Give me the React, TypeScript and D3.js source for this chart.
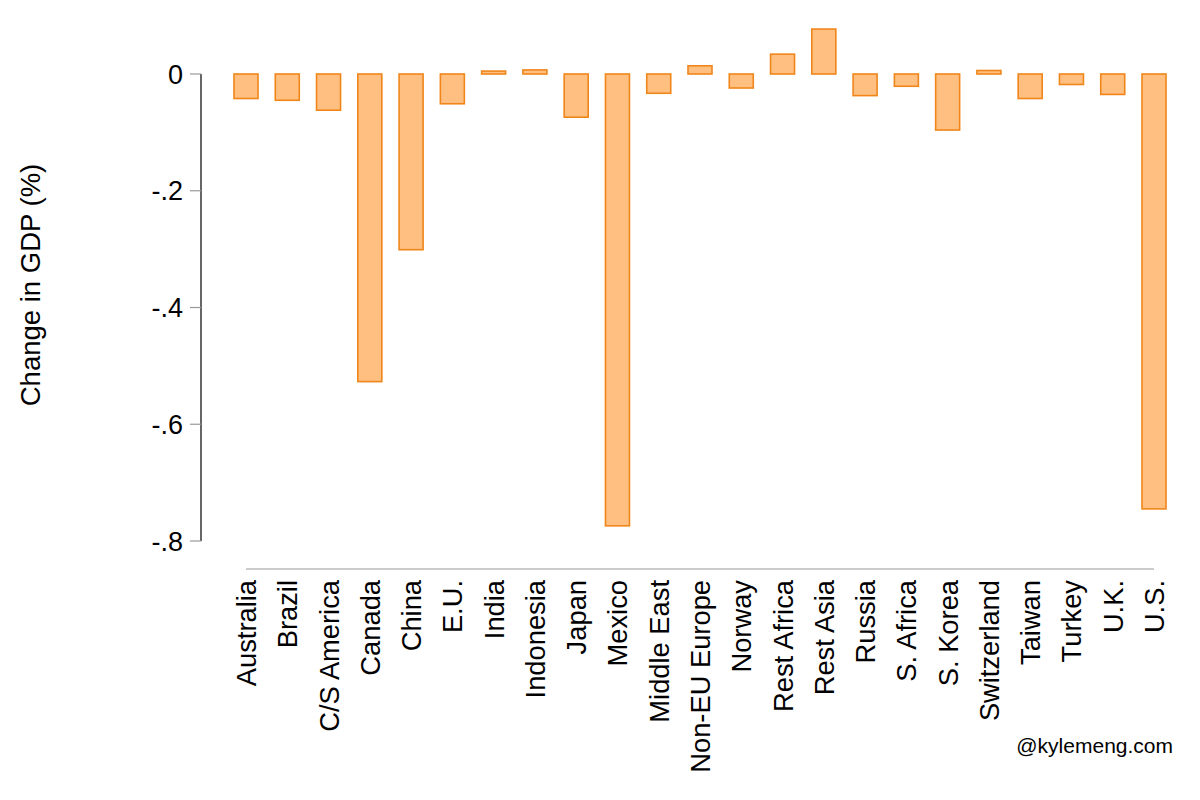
import React from 'react';
import * as d3 from 'd3';

// regions and their change in GDP (%)
const regions = [
  'Australia', 'Brazil', 'C/S America', 'Canada', 'China', 'E.U.', 'India',
  'Indonesia', 'Japan', 'Mexico', 'Middle East', 'Non-EU Europe', 'Norway',
  'Rest Africa', 'Rest Asia', 'Russia', 'S. Africa', 'S. Korea', 'Switzerland',
  'Taiwan', 'Turkey', 'U.K.', 'U.S.',
];
const gdpChange = [
  -0.042, -0.045, -0.062, -0.527, -0.301, -0.051, 0.005,
  0.007, -0.074, -0.774, -0.033, 0.014, -0.024,
  0.034, 0.077, -0.037, -0.021, -0.096, 0.006,
  -0.042, -0.018, -0.035, -0.745,
];
const yTicks = [0, -0.2, -0.4, -0.6, -0.8];
const yTickLabels = ['0', '-.2', '-.4', '-.6', '-.8'];

const W = 1200;
const H = 800;
const FONT = '"Liberation Sans", Arial, Helvetica, sans-serif';

export default function App() {
  const x = d3.scalePoint<string>()
    .domain(regions)
    .range([246, 1154]);

  const y = d3.scaleLinear()
    .domain([-0.8, 0])
    .range([541, 74]);

  const barW = 24;

  return (
    <svg width={W} height={H} style={{ position: 'absolute', left: 0, top: 0, background: '#fff' }}
      fontFamily={FONT}>
      <rect width={W} height={H} fill="#fff" />

      {/* y axis */}
      <line x1={201} x2={201} y1={y(0)} y2={y(-0.8)} stroke="#000" strokeWidth={1.2} />
      {yTicks.map((t, i) => (
        <g key={t}>
          <line x1={190} x2={201} y1={y(t)} y2={y(t)} stroke="#999" strokeWidth={1.2} />
          <text x={183} y={y(t)} dy="0.36em" textAnchor="end" fontSize={27} fill="#000">
            {yTickLabels[i]}
          </text>
        </g>
      ))}
      <text transform={`translate(40,285) rotate(-90)`} textAnchor="middle" fontSize={27.5} fill="#000">
        Change in GDP (%)
      </text>

      {/* bars */}
      {regions.map((r, i) => {
        const v = gdpChange[i];
        const y0 = y(Math.max(0, v));
        const y1 = y(Math.min(0, v));
        return (
          <rect key={r} x={x(r)! - barW / 2} y={y0} width={barW} height={Math.max(1, y1 - y0)}
            fill="#FFBF80" stroke="#F0861A" strokeWidth={1.6} />
        );
      })}

      {/* x axis */}
      <line x1={x.range()[0]} x2={x.range()[1]} y1={569} y2={569} stroke="#999" strokeWidth={1.2} />
      {regions.map(r => (
        <text key={r} transform={`translate(${x(r)! + 10},580) rotate(-90)`} textAnchor="end"
          fontSize={27.3} fill="#000">
          {r}
        </text>
      ))}

      <text x={1173} y={753} textAnchor="end" fontSize={21} fill="#000">@kylemeng.com</text>
    </svg>
  );
}
